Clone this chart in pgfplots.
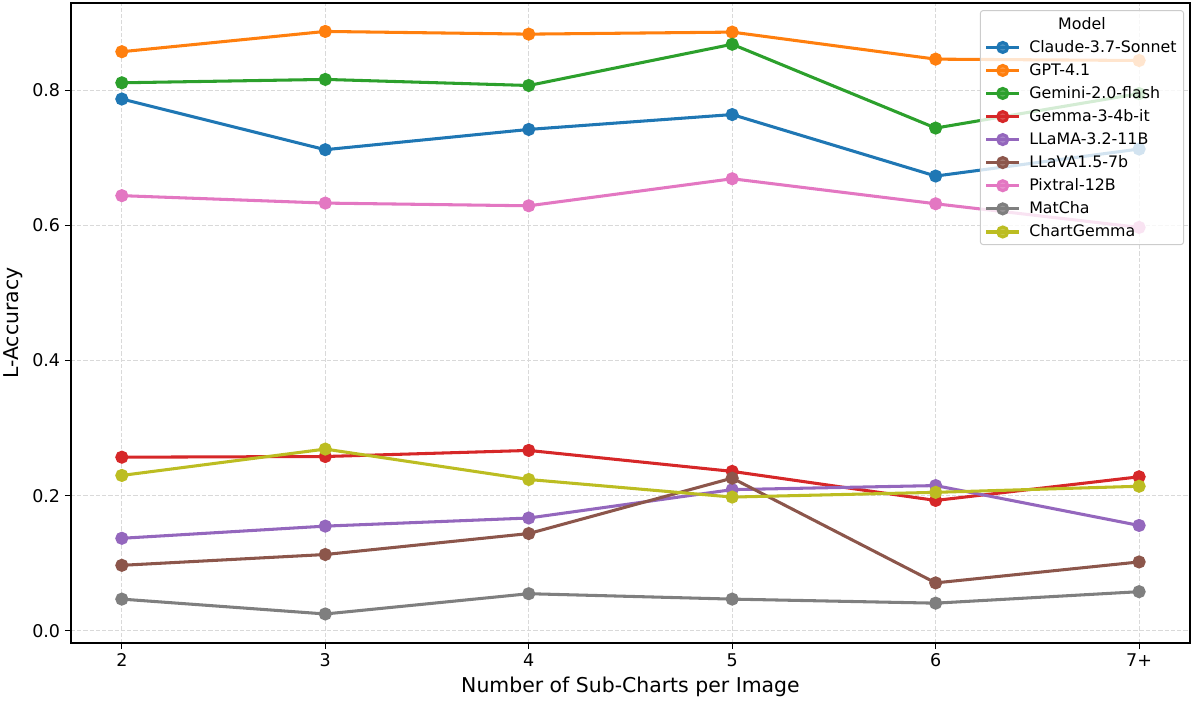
\documentclass[border=0pt]{standalone}
\usepackage{fontspec}
\setmainfont{DejaVu Sans}
\usepackage{pgfplots}
\pgfplotsset{compat=1.18}
\definecolor{c0}{HTML}{1F77B4}
\definecolor{c1}{HTML}{FF7F0E}
\definecolor{c2}{HTML}{2CA02C}
\definecolor{c3}{HTML}{D62728}
\definecolor{c4}{HTML}{9467BD}
\definecolor{c5}{HTML}{8C564B}
\definecolor{c6}{HTML}{E377C2}
\definecolor{c7}{HTML}{7F7F7F}
\definecolor{c8}{HTML}{BCBD22}
\begin{document}
\begin{tikzpicture}
\begin{axis}[
  name=ax,
  scale only axis,
  width=805.7pt, height=460.8pt,
  xmin=-0.25, xmax=5.25,
  ymin=-0.018, ymax=0.929,
  xtick={0,1,2,3,4,5},
  xticklabels={2,3,4,5,6,7+},
  ytick={0,0.2,0.4,0.6,0.8},
  yticklabel style={/pgf/number format/.cd, fixed, fixed zerofill, precision=1},
  /pgf/number format/assume math mode=true,
  tick pos=left,
  tick align=outside,
  major tick length=4.3pt,
  tick style={black, line width=0.8pt},
  axis line style={black, line width=0.8pt},
  ticklabel style={font=\fontsize{12.6}{15}\selectfont},
  xlabel={Number of Sub-Charts per Image},
  ylabel={L-Accuracy},
  label style={font=\fontsize{14.7}{17}\selectfont},
  grid=major,
  major grid style={black!15, line width=0.6pt, dash pattern=on 3pt off 1.5pt},
  every axis plot/.append style={line width=2.2pt, mark=*, mark size=3.6pt},
  legend image code/.code={\draw[mark repeat=2,mark phase=2,#1] plot coordinates {(0pt,0pt) (12pt,0pt) (24pt,0pt)};},
  legend cell align=left,
  legend style={name=leg, at={(0.9947,0.989)}, anchor=north east,
    font=\fontsize{11.4}{13.5}\selectfont, row sep=2.5pt,
    fill=white, fill opacity=0.8, text opacity=1, draw=black!20, line width=0.7pt,
    rounded corners=2pt, inner xsep=3pt, inner ysep=2pt,
    /tikz/every odd column/.style={column sep=4pt}},
]
\addlegendimage{empty legend}
\addlegendentry{\strut}
\addplot[c0] coordinates {(0,0.787) (1,0.712) (2,0.742) (3,0.764) (4,0.673) (5,0.713)};
\addlegendentry{Claude-3.7-Sonnet}
\addplot[c1] coordinates {(0,0.857) (1,0.887) (2,0.883) (3,0.886) (4,0.846) (5,0.844)};
\addlegendentry{GPT-4.1}
\addplot[c2] coordinates {(0,0.811) (1,0.816) (2,0.807) (3,0.868) (4,0.744) (5,0.795)};
\addlegendentry{Gemini-2.0-flash}
\addplot[c3] coordinates {(0,0.257) (1,0.258) (2,0.267) (3,0.236) (4,0.193) (5,0.228)};
\addlegendentry{Gemma-3-4b-it}
\addplot[c4] coordinates {(0,0.137) (1,0.155) (2,0.167) (3,0.209) (4,0.215) (5,0.156)};
\addlegendentry{LLaMA-3.2-11B}
\addplot[c5] coordinates {(0,0.097) (1,0.113) (2,0.144) (3,0.226) (4,0.071) (5,0.102)};
\addlegendentry{LLaVA1.5-7b}
\addplot[c6] coordinates {(0,0.644) (1,0.633) (2,0.629) (3,0.669) (4,0.632) (5,0.597)};
\addlegendentry{Pixtral-12B}
\addplot[c7] coordinates {(0,0.047) (1,0.025) (2,0.055) (3,0.047) (4,0.041) (5,0.058)};
\addlegendentry{MatCha}
\addplot[c8] coordinates {(0,0.230) (1,0.269) (2,0.224) (3,0.198) (4,0.205) (5,0.214)};
\addlegendentry{ChartGemma}
\end{axis}
\node[anchor=north, font=\fontsize{11.4}{13.5}\selectfont, inner sep=0pt] at ([yshift=-5pt]leg.north) {Model};
\pgfresetboundingbox
\path[use as bounding box] ([xshift=-51.1pt,yshift=-42.5pt]ax.south west) rectangle ([xshift=2.9pt,yshift=2.2pt]ax.north east);
\end{tikzpicture}
\end{document}
